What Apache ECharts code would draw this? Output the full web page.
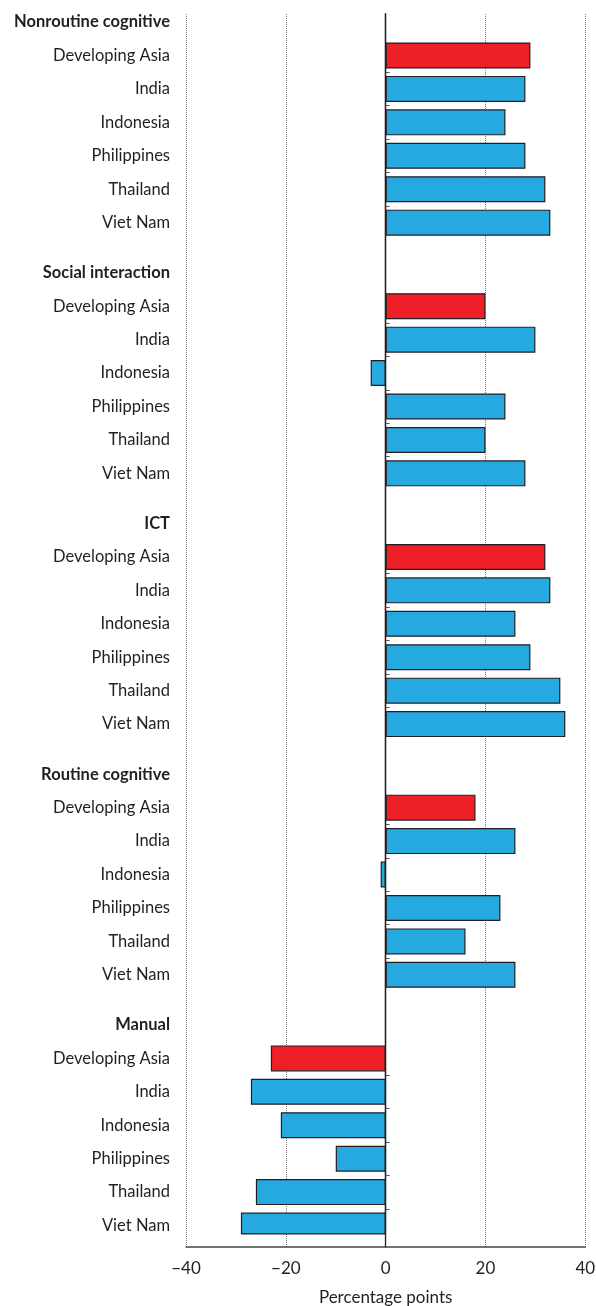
<!DOCTYPE html>
<html>
<head>
<meta charset="utf-8">
<script src="https://cdn.jsdelivr.net/npm/echarts@6/dist/echarts.min.js"></script>
<style>
  html, body { margin: 0; padding: 0; background: #ffffff; }
  #chart { width: 596px; height: 1306px; }
</style>
</head>
<body>
<div id="chart"></div>
<script>
// ---- Data ----
const groups = ['Nonroutine cognitive', 'Social interaction', 'ICT', 'Routine cognitive', 'Manual'];
const economies = ['Developing Asia', 'India', 'Indonesia', 'Philippines', 'Thailand', 'Viet Nam'];
const nonroutineCognitive = [29, 28, 24, 28, 32, 33];
const socialInteraction   = [20, 30, -3, 24, 20, 28];
const ict                 = [32, 33, 26, 29, 35, 36];
const routineCognitive    = [18, 26, -1, 23, 16, 26];
const manual              = [-23, -27, -21, -10, -26, -29];
const xTicks = [-40, -20, 0, 20, 40];
const axisTitle = 'Percentage points';

const groupValues = [nonroutineCognitive, socialInteraction, ict, routineCognitive, manual];

// ---- Build half-row slots ----
const RED = '#EE1F26', BLUE = '#26A9E0', INK = '#231F20';
const slotIds = [], slotText = {}, slotKind = {}, barData = [];
const SLOTS_PER_GROUP = 15;
const totalSlots = (groups.length - 1) * SLOTS_PER_GROUP + 2 + 2 * (economies.length - 1) + 1;
for (let s = 0; s < totalSlots; s++) {
  const g = Math.floor(s / SLOTS_PER_GROUP), r = s % SLOTS_PER_GROUP;
  const id = 's' + s;
  slotIds.push(id);
  if (r === 0) {
    slotText[id] = groups[g]; slotKind[id] = 'h'; barData.push('-');
  } else if (r >= 2 && r <= 2 + 2 * (economies.length - 1) && r % 2 === 0) {
    const e = (r - 2) / 2;
    slotText[id] = economies[e]; slotKind[id] = 'e';
    barData.push({ value: groupValues[g][e], itemStyle: { color: e === 0 ? RED : BLUE } });
  } else {
    slotText[id] = ''; slotKind[id] = 'b'; barData.push('-');
  }
}

const chart = echarts.init(document.getElementById('chart'), null, { renderer: 'canvas' });
const FONT = 'Lato, "Open Sans", sans-serif';
const LEFT = 186, RIGHT = 10.7;

const option = {
  backgroundColor: '#ffffff',
  animation: false,
  grid: [
    { left: LEFT, right: RIGHT, top: 13.7, height: 1220.2, outerBoundsMode: 'none', containLabel: false },
    { left: LEFT, right: RIGHT, top: 14, bottom: 59, outerBoundsMode: 'none', containLabel: false }
  ],
  xAxis: [
    { gridIndex: 0, type: 'value', min: xTicks[0], max: xTicks[xTicks.length - 1], interval: 20, show: false },
    {
      gridIndex: 1, type: 'value', min: xTicks[0], max: xTicks[xTicks.length - 1], interval: 20,
      axisLine: { show: true, onZero: false, lineStyle: { color: '#444', width: 1.5 } },
      axisTick: { show: false },
      axisLabel: {
        fontFamily: FONT, fontSize: 17, color: INK, margin: 13,
        formatter: v => (v < 0 ? '\u2212' + Math.abs(v) : String(v))
      },
      splitLine: { show: true, lineStyle: { type: 'dotted', color: '#777', width: 1 } },
      name: axisTitle, nameLocation: 'middle', nameGap: 42,
      nameTextStyle: { fontFamily: FONT, fontSize: 17, color: INK }
    }
  ],
  yAxis: [
    {
      gridIndex: 0, type: 'category', data: slotIds, inverse: true,
      axisLine: { show: false, onZero: false },
      axisTick: { show: false },
      splitLine: { show: false },
      axisLabel: {
        interval: 0, margin: 16, fontFamily: FONT, fontSize: 16.5, color: INK,
        formatter: id => slotKind[id] === 'h' ? '{h|' + slotText[id] + '}' : slotText[id],
        rich: { h: { fontFamily: FONT, fontSize: 16.5, fontWeight: 'bold', color: INK } }
      }
    },
    {
      gridIndex: 0, type: 'category', data: slotIds, inverse: true, position: 'left',
      axisLine: { show: true, onZero: true, onZeroAxisIndex: 0, lineStyle: { color: INK, width: 1.3 } },
      axisTick: {
        show: true, inside: true, length: 4, alignWithLabel: true,
        interval: (i) => { const r = i % SLOTS_PER_GROUP; return r >= 3 && r <= 11 && r % 2 === 1; },
        lineStyle: { color: '#555', width: 1 }
      },
      axisLabel: { show: false },
      splitLine: { show: false }
    },
    {
      gridIndex: 1, type: 'value', min: 0, max: 1,
      axisLine: { show: true, onZero: true, lineStyle: { color: INK, width: 1.3 } },
      axisTick: { show: false }, axisLabel: { show: false }, splitLine: { show: false }
    }
  ],
  series: [
    {
      type: 'bar', xAxisIndex: 0, yAxisIndex: 0, data: barData,
      barWidth: 26, z: 3,
      itemStyle: { borderColor: INK, borderWidth: 1.2 }
    }
  ]
};
chart.setOption(option);
</script>
</body>
</html>
